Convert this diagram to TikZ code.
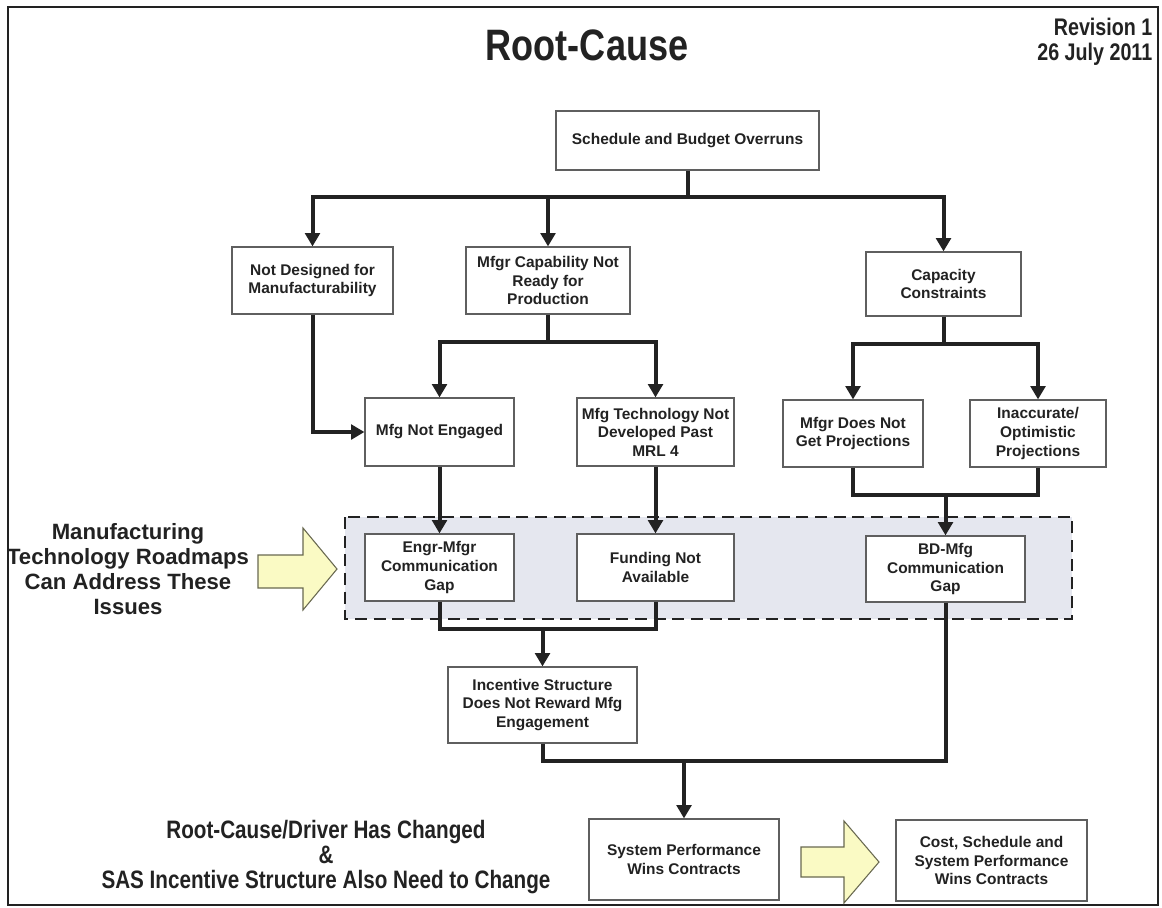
\documentclass[tikz,border=0pt]{standalone}
\usepackage{fontspec}
\setmainfont{Liberation Sans}
\newfontfamily\narrowfont[FakeStretch=0.82]{Liberation Sans}
\usetikzlibrary{arrows.meta}

\definecolor{ink}{RGB}{34,34,34}
\definecolor{boxline}{RGB}{95,95,95}
\definecolor{bandfill}{RGB}{229,231,239}
\definecolor{paleyellow}{RGB}{250,250,196}
\definecolor{arrowedge}{RGB}{105,105,80}

\tikzset{
  box/.style 2 args={draw=boxline, line width=0.9pt, fill=white, inner sep=0pt,
    minimum width=#1*0.75pt, minimum height=#2*0.75pt, align=center,
    text=ink, font=\fontsize{11.6pt}{13.9pt}\selectfont\bfseries},
  link/.style={draw=ink, line width=3pt},
  flow/.style={link, -{Triangle[width=11pt,length=10pt]}},
  band/.style={draw=ink, line width=2.2pt, dash pattern=on 9pt off 5pt, fill=bandfill},
  bigarrow/.style={draw=arrowedge, line width=0.8pt, fill=paleyellow, line join=miter},
}

\begin{document}
\begin{tikzpicture}[x=0.75pt, y=-0.75pt]
\useasboundingbox (0,0) rectangle (1162,907);
\fill[white] (0,0) rectangle (1162,907);

% outer frame
\draw[ink, line width=2pt] (8,7) rectangle (1158,905);

% headings
\node[text=ink, font=\narrowfont\fontsize{33pt}{36pt}\selectfont\bfseries] (title) at (587,45) {Root-Cause};
\node[text=ink, anchor=east, align=right, font=\narrowfont\fontsize{18pt}{19pt}\selectfont\bfseries] (rev) at (1157,42) {Revision 1\\26 July 2011};

% shaded band of issues the roadmaps address
\path[band] (345,517) rectangle (1072,619);

% boxes
\node[box={263}{59}] (top) at (687.5,140.5) {Schedule and Budget Overruns};
\node[box={161}{67}] (nd)  at (312.5,280.5) {Not Designed for\\Manufacturability};
\node[box={164}{67}] (mc)  at (548,280.5) {Mfgr Capability Not\\Ready for\\Production};
\node[box={155}{64}] (cc)  at (943.5,284) {Capacity\\Constraints};
\node[box={149}{68}] (mne) at (439.5,432) {Mfg Not Engaged};
\node[box={157}{68}] (mtn) at (655.5,432) {Mfg Technology Not\\Developed Past\\MRL 4};
\node[box={140}{67}] (mdn) at (853,433.5) {Mfgr Does Not\\Get Projections};
\node[box={136}{67}] (iop) at (1038,433.5) {Inaccurate/\\Optimistic\\Projections};
\node[box={149}{67}] (emg) at (439.5,567.5) {Engr-Mfgr\\Communication\\Gap};
\node[box={157}{67}] (fna) at (655.5,567.5) {Funding Not\\Available};
\node[box={159}{66}] (bdm) at (945.5,569) {BD-Mfg\\Communication\\Gap};
\node[box={189}{76}] (inc) at (542.5,705) {Incentive Structure\\Does Not Reward Mfg\\Engagement};
\node[box={190}{81}] (spw) at (684,859.5) {System Performance\\Wins Contracts};
\node[box={191}{81}] (csw) at (991.5,860.5) {Cost, Schedule and\\System Performance\\Wins Contracts};

% junction points
\coordinate (j1) at (687.5,197);
\coordinate (j2) at (548,342);
\coordinate (j3) at (943.5,344);
\coordinate (j4) at (945.5,495);
\coordinate (j5) at (542.5,629);
\coordinate (j6) at (684,761);

% connectors
\draw[link] (top.south) -- (j1);
\draw[flow] (j1) -| (nd.north);
\draw[flow] (j1) -| (mc.north);
\draw[flow] (j1) -| (cc.north);

\draw[flow] (nd.south) |- (mne.west);
\draw[link] (mc.south) -- (j2);
\draw[flow] (j2) -| (mne.north);
\draw[flow] (j2) -| (mtn.north);

\draw[link] (cc.south) -- (j3);
\draw[flow] (j3) -| (mdn.north);
\draw[flow] (j3) -| (iop.north);

\draw[flow] (mne.south) -- (emg.north);
\draw[flow] (mtn.south) -- (fna.north);

\draw[link] (mdn.south) |- (j4);
\draw[link] (iop.south) |- (j4);
\draw[flow] (j4) -- (bdm.north);

\draw[link] (emg.south) |- (j5);
\draw[link] (fna.south) |- (j5);
\draw[flow] (j5) -- (inc.north);

\draw[link] (inc.south) |- (j6);
\draw[link] (bdm.south) |- (j6);
\draw[flow] (j6) -- (spw.north);

% block arrows
\draw[bigarrow] (258,555) -- (303,555) -- (303,528) -- (337,569) -- (303,610) -- (303,588) -- (258,588) -- cycle;
\draw[bigarrow] (801,847) -- (844,847) -- (844,821) -- (879,862) -- (844,903) -- (844,877) -- (801,877) -- cycle;

% side notes
\node[text=ink, align=center, font=\fontsize{16.6pt}{18.8pt}\selectfont\bfseries] (roadmap) at (128,569)
  {Manufacturing\\Technology Roadmaps\\Can Address These\\Issues};
\node[text=ink, align=center, font=\narrowfont\fontsize{18.9pt}{18.9pt}\selectfont\bfseries] (driver) at (326,857)
  {Root-Cause/Driver Has Changed\\\&\\SAS Incentive Structure Also Need to Change};
\end{tikzpicture}
\end{document}
